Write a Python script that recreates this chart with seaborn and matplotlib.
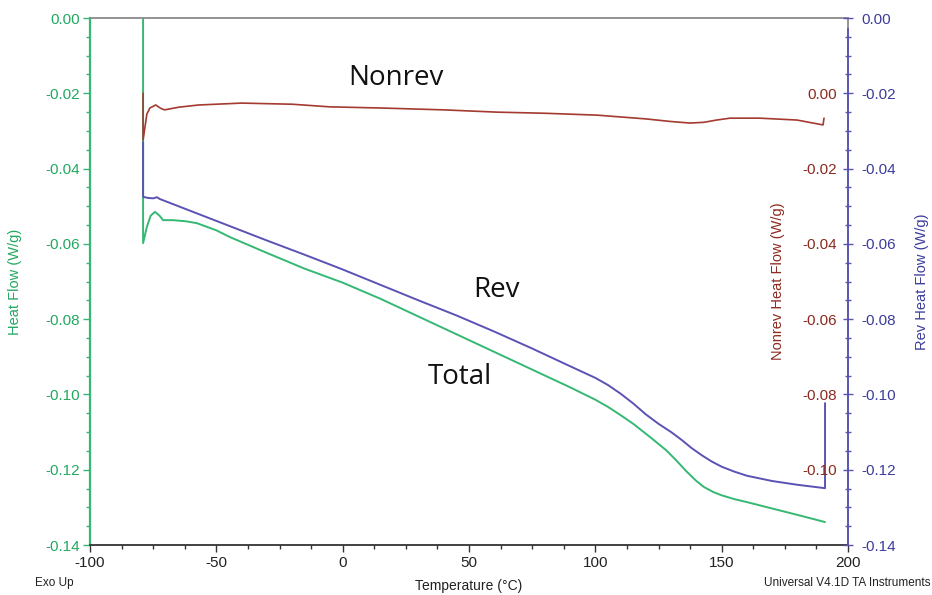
import matplotlib
matplotlib.use('Agg')
import matplotlib.pyplot as plt
from matplotlib.ticker import MultipleLocator, FormatStrFormatter
import seaborn as sns

# Total heat flow (W/g), left axis
total_temp = [-79, -79, -77.5, -76, -74.3, -72.5, -71.1, -67.2, -62, -57.7, -50, -44.6,
              -30, -15, 0, 15, 30, 45, 60, 75, 90, 100, 105, 110, 115, 122, 128, 132,
              136, 140, 143, 146.6, 150, 155, 160, 170, 180, 190.9]
total_flow = [0.0, -0.0598, -0.0555, -0.0525, -0.0515, -0.0525, -0.0537, -0.0537,
              -0.0540, -0.0545, -0.0564, -0.0582, -0.0624, -0.0666, -0.0703, -0.0746,
              -0.0793, -0.0840, -0.0887, -0.0934, -0.0981, -0.1014, -0.1033, -0.1055,
              -0.1078, -0.1115, -0.1148, -0.1175, -0.1204, -0.1230, -0.1246, -0.1259,
              -0.1268, -0.1278, -0.1286, -0.1303, -0.1320, -0.1339]

# Reversing heat flow (W/g), right axis
rev_temp = [-79, -79, -77, -75, -73.5, -72.3, -60, -45, -30, -15, 0, 15, 30, 45, 60,
            75, 90, 100, 105, 110, 115, 120, 125, 130, 134, 138, 142, 146, 150, 155,
            160, 170, 180, 190.9, 190.9]
rev_flow = [-0.0330, -0.0475, -0.0478, -0.0479, -0.0476, -0.0481, -0.0513, -0.0552,
            -0.0591, -0.0629, -0.0668, -0.0709, -0.0750, -0.0790, -0.0833, -0.0878,
            -0.0925, -0.0956, -0.0975, -0.0998, -0.1024, -0.1053, -0.1078, -0.1100,
            -0.1120, -0.1142, -0.1161, -0.1178, -0.1192, -0.1205, -0.1216, -0.1230,
            -0.1240, -0.1249, -0.1023]

# Non-reversing heat flow (W/g), inner right axis
nonrev_temp = [-79, -79, -77.5, -76.3, -74, -72, -70.5, -65, -57, -40, -20, -5, 15, 40,
               61, 80, 100.7, 120, 130, 137.5, 143, 148, 153.3, 165, 179.8, 190.1, 190.5]
nonrev_flow = [0.0, -0.0124, -0.0055, -0.0039, -0.0031, -0.0040, -0.0044, -0.0037,
               -0.0031, -0.0026, -0.0029, -0.0036, -0.0039, -0.0044, -0.0050, -0.0053,
               -0.0058, -0.0068, -0.0075, -0.0079, -0.0077, -0.0071, -0.0066, -0.0066,
               -0.0071, -0.0084, -0.0066]

x_ticks = [-100, -50, 0, 50, 100, 150, 200]
flow_ticks = [0.00, -0.02, -0.04, -0.06, -0.08, -0.10, -0.12, -0.14]
nonrev_ticks = [0.00, -0.02, -0.04, -0.06, -0.08, -0.10]

GREEN = '#35b873'
GREEN_TXT = '#22a860'
PURPLE = '#5a52b4'
PURPLE_TXT = '#3c3c9c'
BROWN = '#a43a30'
BROWN_TXT = '#8c2a20'

sns.set_style("ticks")
plt.rcParams['font.family'] = ['Liberation Sans', 'DejaVu Sans']
plt.rcParams['axes.unicode_minus'] = False

fig = plt.figure(figsize=(9.32, 5.95), dpi=100)
ax = fig.add_axes([0.0966, 0.0840, 0.8133, 0.8857])
ax_rev = ax.twinx()
ax_nr = ax.twinx()

# curves
sns.lineplot(x=total_temp, y=total_flow, ax=ax, color=GREEN, lw=1.4,
             sort=False, estimator=None)
sns.lineplot(x=rev_temp, y=rev_flow, ax=ax_rev, color=PURPLE, lw=1.4,
             sort=False, estimator=None)
sns.lineplot(x=nonrev_temp, y=nonrev_flow, ax=ax_nr, color=BROWN, lw=1.2,
             sort=False, estimator=None)

# left axis
ax.set_xlim(-100, 200)
ax.set_ylim(-0.14, 0.0)
ax.set_xticks(x_ticks)
ax.xaxis.set_major_formatter(FormatStrFormatter('%d'))
ax.xaxis.set_minor_locator(MultipleLocator(12.5))
ax.set_yticks(flow_ticks)
ax.yaxis.set_major_formatter(FormatStrFormatter('%.2f'))
ax.yaxis.set_minor_locator(MultipleLocator(0.005))
ax.tick_params(axis='y', which='major', direction='out', length=5, width=1,
               color=GREEN, labelcolor=GREEN_TXT, labelsize=11, pad=2)
ax.tick_params(axis='y', which='minor', direction='out', length=3, width=1, color=GREEN)
ax.tick_params(axis='x', which='major', direction='out', length=5, width=1,
               color='#333333', labelcolor='#222222', labelsize=11, pad=3)
ax.tick_params(axis='x', which='minor', direction='out', length=3, width=1, color='#333333')
ax.spines['left'].set_color(GREEN)
ax.spines['bottom'].set_color('#333333')
ax.spines['top'].set_color('#8a8a8a')
ax.spines['right'].set_color('#8a8a8a')
for s in ax.spines.values():
    s.set_linewidth(1.3)
ax.spines['left'].set_linewidth(1.6)
ax.set_xlabel('Temperature (°C)', fontsize=10, color='#222222')
ax.xaxis.set_label_coords(0.5, -0.064)
ax.set_ylabel('Heat Flow (W/g)', fontsize=10.5, color=GREEN_TXT)
ax.yaxis.set_label_coords(-0.090, 0.5)

# reversing axis (outer right)
ax_rev.set_ylim(-0.14, 0.0)
ax_rev.set_yticks(flow_ticks)
ax_rev.yaxis.set_major_formatter(FormatStrFormatter('%.2f'))
ax_rev.yaxis.set_minor_locator(MultipleLocator(0.005))
ax_rev.tick_params(axis='y', which='major', direction='inout', length=7, width=1,
                   color=PURPLE, labelcolor=PURPLE_TXT, labelsize=11, pad=6)
ax_rev.tick_params(axis='y', which='minor', direction='inout', length=5, width=1,
                   color=PURPLE)
for side in ['left', 'top', 'bottom']:
    ax_rev.spines[side].set_visible(False)
ax_rev.spines['right'].set_color(PURPLE)
ax_rev.spines['right'].set_linewidth(1.3)
ax_rev.spines['right'].set_bounds(-0.14, -0.003)
ax_rev.set_ylabel('Rev Heat Flow (W/g)', fontsize=10.5, color=PURPLE_TXT)
ax_rev.yaxis.set_label_coords(1.089, 0.5)

# non-reversing axis (labels inside the right spine)
ax_nr.set_ylim(-0.12, 0.02)
ax_nr.yaxis.tick_left()
ax_nr.yaxis.set_label_position('left')
ax_nr.spines['left'].set_position(('axes', 1.0))
for s in ax_nr.spines.values():
    s.set_visible(False)
ax_nr.set_yticks(nonrev_ticks)
ax_nr.yaxis.set_major_formatter(FormatStrFormatter('%.2f'))
ax_nr.tick_params(axis='y', which='both', length=0, labelcolor=BROWN_TXT,
                  labelsize=11, pad=8)
ax_nr.set_ylabel('Nonrev Heat Flow (W/g)', fontsize=10.5, color=BROWN_TXT)
ax_nr.yaxis.set_label_coords(0.917, 0.5)

# curve names
name_font = dict(family=['Open Sans', 'DejaVu Sans'], fontsize=20, color='#111111',
                 ha='left', va='center')
ax.text(2.1, -0.0159, 'Nonrev', **name_font)
ax.text(51.6, -0.0723, 'Rev', **name_font)
ax.text(33.8, -0.0954, 'Total', **name_font)

# footer
fig.text(35 / 932, 1 - 583 / 595, 'Exo Up', ha='left', va='center', fontsize=8.5,
         color='#222222')
fig.text(930 / 932, 1 - 583 / 595, 'Universal V4.1D TA Instruments', ha='right',
         va='center', fontsize=8.5, color='#222222')

fig.savefig('out.png', dpi=100)
